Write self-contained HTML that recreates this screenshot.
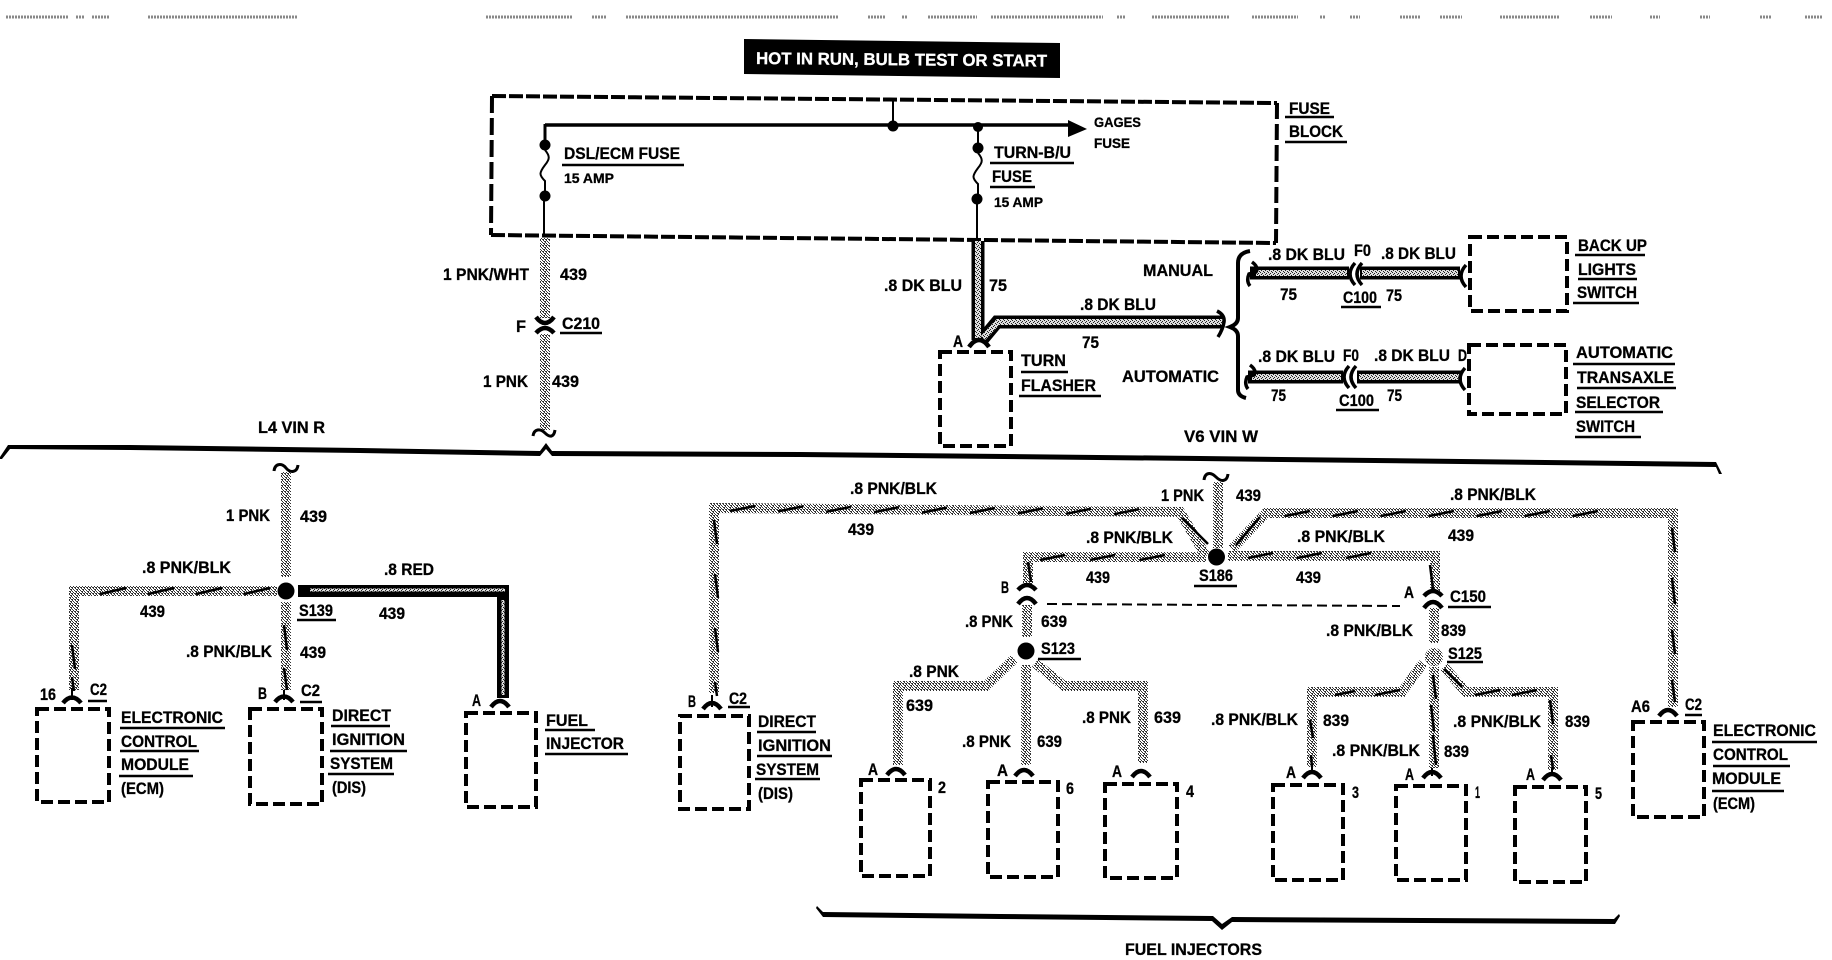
<!DOCTYPE html>
<html><head><meta charset="utf-8"><title>Wiring diagram</title>
<style>
html,body{margin:0;padding:0;background:#fff}
svg{display:block}
text{font-family:"Liberation Sans Narrow","Liberation Sans",sans-serif;font-weight:bold;font-size:17px;fill:#000;stroke:#000;stroke-width:.3}
text.s{font-size:14px}
.w{fill:none;stroke:url(#p);stroke-width:10}
.bo{fill:none;stroke:#000;stroke-width:13}
.bi{fill:none;stroke:url(#b);stroke-width:6}
.tk{fill:none;stroke:#000;stroke-width:2.5}
.box{fill:none;stroke:#000;stroke-width:4;stroke-dasharray:12 5}
.u{fill:none;stroke:#000;stroke-width:2.5}
.c{fill:none;stroke:#000;stroke-width:4.5}
.l{fill:none;stroke:#000;stroke-width:2}
</style></head><body>
<svg width="1832" height="960" viewBox="0 0 1832 960" xmlns="http://www.w3.org/2000/svg">
<defs>
<pattern id="p" width="6" height="6" patternUnits="userSpaceOnUse">
<rect width="6" height="6" fill="#fff"/>
<path d="M0 0h1v1H0zM3 0h1v1H3zM1 1h1v1H1zM4 1h2v1H4zM2 2h1v1H2zM5 2h1v1H5zM0 3h1v1H0zM3 3h2v1H3zM1 4h1v1H1zM4 4h1v1H4zM0 5h1v1H0zM2 5h2v1H2zM5 5h1v1H5z" fill="#333"/>
</pattern>
<pattern id="b" width="4" height="4" patternUnits="userSpaceOnUse">
<rect width="4" height="4" fill="#ddd"/>
<path d="M0 0h1v1H0zM2 1h1v1H2zM1 2h1v1H1zM3 3h1v1H3z" fill="#222"/>
</pattern>
</defs>
<rect width="1832" height="960" fill="#fff"/>

<!-- top clipped text -->
<g stroke="#888" stroke-width="3" stroke-dasharray="2 1" fill="none">
<path d="M6 17H68M76 17H84M92 17H110M148 17H298M486 17H572M592 17H606M626 17H839M868 17H885M902 17H908M928 17H977M991 17H1103M1117 17H1126M1152 17H1229M1252 17H1298M1320 17H1326M1350 17H1360M1400 17H1420M1440 17H1462M1500 17H1560M1590 17H1612M1650 17H1660M1700 17H1710M1760 17H1772M1805 17H1822"/>
</g>

<!-- banner -->
<polygon points="744,39 1060,43 1060,78 744,74" fill="#000"/>
<text x="756" y="64" textLength="291" lengthAdjust="spacingAndGlyphs" transform="rotate(0.5 756 64)" style="fill:#fff;stroke:#fff;font-size:17px">HOT IN RUN, BULB TEST OR START</text>

<!-- fuse block -->
<g fill="none" stroke="#000" stroke-width="4">
<path d="M492 96L1277 103" stroke-dasharray="14 3"/>
<path d="M1277 103L1276 243" stroke-dasharray="16 5"/>
<path d="M491 235L1276 243" stroke-dasharray="14 3"/>
<path d="M492 96L491 235" stroke-dasharray="17 5"/>
</g>
<path d="M545 125H1070" class="l" style="stroke-width:3.5"/>
<path d="M545 124V150" class="l" style="stroke-width:3"/>
<path d="M893 98V126M978 126V148M977 198V240M544 196V236" class="l"/>
<polygon points="1068,120 1087,129 1068,137" fill="#000"/>
<g fill="#000">
<circle cx="893" cy="126" r="5.5"/><circle cx="978" cy="127" r="5"/>
<circle cx="545" cy="145" r="5.5"/><circle cx="545" cy="196" r="5.5"/>
<circle cx="978" cy="148" r="5.5"/><circle cx="977" cy="199" r="5.5"/>
</g>
<path d="M545 150c5 6 5 9 0 15c-6 8-6 10 0 16l0 10M978 153c5 6 5 9 0 15c-6 8-6 10 0 16l0 10" class="l"/>

<!-- bus lines -->
<polygon fill="#000" points="0,457 8,445 130,445 360,448 540,451 546,443 552,451 800,452 1200,456 1716,462 1722,474 1719,474 1716,467 1200,461 800,457 552,456 546,449 540,456 360,453 130,450 10,449 2,459 0,459"/>
<polygon fill="#000" points="817,906 823,912 1000,914 1213,916 1222,924 1232,917 1614,919 1619,914 1620,916 1615,924 1232,922 1222,930 1212,921 1000,919 823,917 816,908"/>

<!-- upper pink wire -->
<path class="w" d="M545 238V318M545 334V430"/>
<path class="c" d="M536 317q9 12 18 0M536 333q9-10 18 0"/>
<path class="c" style="stroke-width:3" d="M533 436c1-7 7-8 12-3s9 4 10-3"/>

<!-- blue wires -->
<path class="bo" d="M978 241V340M982 340L997 322H1223"/>
<path class="bi" d="M978 241V338M983 338L998 322H1223"/>
<path class="bo" d="M1250 273H1349M1360 273H1460M1248 377H1343M1357 377H1462"/>
<path class="bi" d="M1256 273H1347M1362 273H1458M1252 377H1341M1359 377H1460"/>
<path class="c" d="M969 347q10-14 20 0"/>
<path class="c" style="stroke-width:3.5" d="M1217 311q8 4 7 11q-1 7-6 15M1252 262q7 5 4 10l-7 2q-3 7 1 12M1355 263q-10 11 0 22M1362 263q-10 11 0 22M1466 265q-10 11 0 22M1250 365q7 5 4 10l-7 2q-3 7 1 12M1349 366q-10 11 0 22M1356 366q-10 11 0 22M1465 368q-10 11 0 22"/>
<path d="M1250 251q-12 2-12 12V318q0 6-8 9q8 3 8 9V390q0 6 8 8" fill="none" stroke="#000" stroke-width="4"/>

<!-- L4 wires -->
<path class="w" d="M286 472V577M286 602V690M277 591H74V690"/>
<path class="c" style="stroke-width:3" d="M274 471c1-8 8-8 12-3s11 5 12-3"/>
<circle cx="286" cy="591" r="8.5"/>
<path d="M298 591H503V698" fill="none" stroke="#000" stroke-width="12"/>
<path d="M310 590H505M503 600V695" fill="none" stroke="url(#b)" stroke-width="3"/>
<path class="tk" d="M100 594l26-6m22 6l26-6m22 6l26-6m22 6l26-6M72 645l3 24m-3 8l2 14M284 625l3 25m-3 18l3 22"/>
<path class="c" d="M63 703q9-11 18 0M275 702q9-11 18 0M491 707q9-12 18 0"/>

<!-- V6 wires -->
<path class="w" d="M1206 556L1180 512L714 508V693"/>
<path class="w" d="M1218 482V548M1206 557H1028V585"/>
<path class="w" d="M1232 549L1266 513H1673V707"/>
<path class="w" d="M1228 556H1435V592"/>
<path class="c" style="stroke-width:3" d="M1204 480c1-8 7-8 12-3s11 5 12-3"/>
<circle cx="1216.5" cy="557" r="8.5"/>
<path class="tk" d="M730 511l25-5m23 5.4l25-5m23 5.4l25-5m23 5.4l25-5m23 5.4l25-5m23 5.4l25-5m23 5.4l25-5m23 5.4l25-5m23 5.4l25-5M714 520l3 24m-2 30l3 24m-3 30l3 24m-3 30l2 14M1182 518l26 26M1040 560l25-5m25 5l25-5m25 5l25-5M1028 562l3 20M1236 545l24-28M1285 516l25-5m23 5l25-5m23 5l25-5m23 5l25-5m23 5l25-5m23 5l25-5m23 5l25-5M1672 528l3 24m-3 26l3 26m-3 26l3 24m-3 26l3 22M1248 558l25-5m24 5l25-5m24 5l25-5M1430 565l3 24M1434 618l3 22"/>
<path class="w" d="M1027 605V637M1014 659L986 686H898V765M1026 665V765M1035 663L1064 686H1143V763"/>
<circle cx="1026" cy="651" r="8.5"/>
<path class="w" d="M1434 608V643M1423 663L1402 692H1312V767M1434 667V768M1444 667L1466 692H1553V770"/>
<circle cx="1434" cy="657" r="9" fill="url(#p)"/>
<path class="tk" d="M1375 695l25-5M1335 695l20-4M1444 669l18 18M1475 695l25-5m12 5l25-5M1310 720l3 18M1311 755l1 12M1433 675l3 24M1431 705l3 26M1550 700l3 24M1551 755l2 14M1433 735l3 30"/>
<path class="c" d="M1018 590q9-10 18 0M1018 604q9-12 18 0M1424 596q9-10 18 0M1424 608q9-12 18 0"/>
<path class="c" d="M887 775q9-12 18 0M1015 776q9-12 18 0M1132 777q9-12 18 0M1303 778q9-12 18 0M1423 778q9-12 18 0M1543 780q9-12 18 0M703 709q9-12 18 0M1659 716q9-12 18 0"/>
<path class="l" d="M712 695v12M1312 766v8M1432 768v8M1552 768v8M72 688v12M284 690v10"/>
<path d="M1047 604L1400 606" fill="none" stroke="#000" stroke-width="2" stroke-dasharray="10 5"/>

<!-- boxes -->
<rect class="box" x="940" y="352" width="71" height="94"/>
<rect class="box" x="1470" y="237" width="97" height="74"/>
<rect class="box" x="1469" y="345" width="97" height="69"/>
<rect class="box" x="37" y="709" width="72" height="93"/>
<rect class="box" x="250" y="709" width="72" height="95"/>
<rect class="box" x="466" y="713" width="70" height="94"/>
<rect class="box" x="680" y="716" width="69" height="93"/>
<rect class="box" x="861" y="780" width="69" height="96"/>
<rect class="box" x="988" y="782" width="70" height="95"/>
<rect class="box" x="1105" y="784" width="72" height="94"/>
<rect class="box" x="1273" y="785" width="70" height="95"/>
<rect class="box" x="1396" y="786" width="70" height="94"/>
<rect class="box" x="1515" y="787" width="71" height="95"/>
<rect class="box" x="1633" y="722" width="71" height="95"/>

<!-- underlines -->
<path class="u" d="M562 165H684M990 163H1074M990 187H1035M1285 117H1334M1285 142H1347M560 333H602M1021 372H1068M1019 396H1101M1341 307H1381M1575 255H1645M1578 279H1637M1573 303H1639M1336 410H1379M1573 364H1675M1577 388H1676M1575 412H1663M1575 437H1641M297 620H336M88 701H107M300 702H322M120 728H225M120 751H199M119 776H193M331 726H390M330 751H407M328 774H394M545 730H595M545 754H628M1194 586H1237M1038 659H1081M728 707H750M757 732H816M757 756H832M755 779H820M1448 607H1491M1447 662H1483M1685 715H1702M1712 742H1817M1713 766H1790M1712 791H1784"/>

<!-- text -->
<text x="564" y="159" textLength="116" lengthAdjust="spacingAndGlyphs">DSL/ECM FUSE</text>
<text class="s" x="564" y="183" textLength="50" lengthAdjust="spacingAndGlyphs">15 AMP</text>
<text x="994" y="158" textLength="77" lengthAdjust="spacingAndGlyphs">TURN-B/U</text>
<text x="992" y="182" textLength="40" lengthAdjust="spacingAndGlyphs">FUSE</text>
<text class="s" x="994" y="207" textLength="49" lengthAdjust="spacingAndGlyphs">15 AMP</text>
<text class="s" x="1094" y="127" textLength="47" lengthAdjust="spacingAndGlyphs">GAGES</text>
<text class="s" x="1094" y="148" textLength="36" lengthAdjust="spacingAndGlyphs">FUSE</text>
<text x="1289" y="114" textLength="41" lengthAdjust="spacingAndGlyphs">FUSE</text>
<text x="1289" y="137" textLength="54" lengthAdjust="spacingAndGlyphs">BLOCK</text>
<text x="443" y="280" textLength="86" lengthAdjust="spacingAndGlyphs">1 PNK/WHT</text>
<text x="560" y="280" textLength="27" lengthAdjust="spacingAndGlyphs">439</text>
<text x="516" y="332" textLength="10" lengthAdjust="spacingAndGlyphs">F</text>
<text x="562" y="329" textLength="38" lengthAdjust="spacingAndGlyphs">C210</text>
<text x="483" y="387" textLength="45" lengthAdjust="spacingAndGlyphs">1 PNK</text>
<text x="552" y="387" textLength="27" lengthAdjust="spacingAndGlyphs">439</text>
<text x="884" y="291" textLength="78" lengthAdjust="spacingAndGlyphs">.8 DK BLU</text>
<text x="989" y="291" textLength="18" lengthAdjust="spacingAndGlyphs">75</text>
<text x="1080" y="310" textLength="76" lengthAdjust="spacingAndGlyphs">.8 DK BLU</text>
<text x="1082" y="348" textLength="17" lengthAdjust="spacingAndGlyphs">75</text>
<text x="953" y="347" textLength="10" lengthAdjust="spacingAndGlyphs">A</text>
<text x="1021" y="366" textLength="45" lengthAdjust="spacingAndGlyphs">TURN</text>
<text x="1021" y="391" textLength="75" lengthAdjust="spacingAndGlyphs">FLASHER</text>
<text x="1143" y="276" textLength="70" lengthAdjust="spacingAndGlyphs">MANUAL</text>
<text x="1122" y="382" textLength="97" lengthAdjust="spacingAndGlyphs">AUTOMATIC</text>
<text x="1184" y="442" textLength="74" lengthAdjust="spacingAndGlyphs">V6 VIN W</text>
<text x="1268" y="260" textLength="77" lengthAdjust="spacingAndGlyphs">.8 DK BLU</text>
<text x="1354" y="256" textLength="17" lengthAdjust="spacingAndGlyphs">F0</text>
<text x="1381" y="259" textLength="75" lengthAdjust="spacingAndGlyphs">.8 DK BLU</text>
<text x="1280" y="300" textLength="17" lengthAdjust="spacingAndGlyphs">75</text>
<text x="1343" y="303" textLength="34" lengthAdjust="spacingAndGlyphs">C100</text>
<text x="1386" y="301" textLength="16" lengthAdjust="spacingAndGlyphs">75</text>
<text x="1578" y="251" textLength="69" lengthAdjust="spacingAndGlyphs">BACK UP</text>
<text x="1578" y="275" textLength="58" lengthAdjust="spacingAndGlyphs">LIGHTS</text>
<text x="1577" y="298" textLength="60" lengthAdjust="spacingAndGlyphs">SWITCH</text>
<text x="1258" y="362" textLength="77" lengthAdjust="spacingAndGlyphs">.8 DK BLU</text>
<text x="1343" y="361" textLength="16" lengthAdjust="spacingAndGlyphs">F0</text>
<text x="1374" y="361" textLength="76" lengthAdjust="spacingAndGlyphs">.8 DK BLU</text>
<text x="1458" y="361" textLength="9" lengthAdjust="spacingAndGlyphs">D</text>
<text x="1271" y="401" textLength="15" lengthAdjust="spacingAndGlyphs">75</text>
<text x="1339" y="406" textLength="35" lengthAdjust="spacingAndGlyphs">C100</text>
<text x="1387" y="401" textLength="15" lengthAdjust="spacingAndGlyphs">75</text>
<text x="1576" y="358" textLength="97" lengthAdjust="spacingAndGlyphs">AUTOMATIC</text>
<text x="1577" y="383" textLength="97" lengthAdjust="spacingAndGlyphs">TRANSAXLE</text>
<text x="1576" y="408" textLength="84" lengthAdjust="spacingAndGlyphs">SELECTOR</text>
<text x="1576" y="432" textLength="59" lengthAdjust="spacingAndGlyphs">SWITCH</text>

<text x="258" y="433" textLength="67" lengthAdjust="spacingAndGlyphs">L4 VIN R</text>
<text x="142" y="573" textLength="89" lengthAdjust="spacingAndGlyphs">.8 PNK/BLK</text>
<text x="384" y="575" textLength="50" lengthAdjust="spacingAndGlyphs">.8 RED</text>
<text x="226" y="521" textLength="44" lengthAdjust="spacingAndGlyphs">1 PNK</text>
<text x="300" y="522" textLength="27" lengthAdjust="spacingAndGlyphs">439</text>
<text x="140" y="617" textLength="25" lengthAdjust="spacingAndGlyphs">439</text>
<text x="299" y="616" textLength="34" lengthAdjust="spacingAndGlyphs">S139</text>
<text x="379" y="619" textLength="26" lengthAdjust="spacingAndGlyphs">439</text>
<text x="186" y="657" textLength="86" lengthAdjust="spacingAndGlyphs">.8 PNK/BLK</text>
<text x="300" y="658" textLength="26" lengthAdjust="spacingAndGlyphs">439</text>
<text x="40" y="700" textLength="16" lengthAdjust="spacingAndGlyphs">16</text>
<text x="90" y="695" textLength="17" lengthAdjust="spacingAndGlyphs">C2</text>
<text x="258" y="699" textLength="9" lengthAdjust="spacingAndGlyphs">B</text>
<text x="301" y="696" textLength="19" lengthAdjust="spacingAndGlyphs">C2</text>
<text x="472" y="706" textLength="9" lengthAdjust="spacingAndGlyphs">A</text>
<text x="121" y="723" textLength="102" lengthAdjust="spacingAndGlyphs">ELECTRONIC</text>
<text x="121" y="747" textLength="76" lengthAdjust="spacingAndGlyphs">CONTROL</text>
<text x="121" y="770" textLength="68" lengthAdjust="spacingAndGlyphs">MODULE</text>
<text x="121" y="794" textLength="43" lengthAdjust="spacingAndGlyphs">(ECM)</text>
<text x="332" y="721" textLength="59" lengthAdjust="spacingAndGlyphs">DIRECT</text>
<text x="332" y="745" textLength="73" lengthAdjust="spacingAndGlyphs">IGNITION</text>
<text x="330" y="769" textLength="63" lengthAdjust="spacingAndGlyphs">SYSTEM</text>
<text x="332" y="793" textLength="34" lengthAdjust="spacingAndGlyphs">(DIS)</text>
<text x="546" y="726" textLength="42" lengthAdjust="spacingAndGlyphs">FUEL</text>
<text x="546" y="749" textLength="78" lengthAdjust="spacingAndGlyphs">INJECTOR</text>

<text x="850" y="494" textLength="87" lengthAdjust="spacingAndGlyphs">.8 PNK/BLK</text>
<text x="848" y="535" textLength="26" lengthAdjust="spacingAndGlyphs">439</text>
<text x="1161" y="501" textLength="43" lengthAdjust="spacingAndGlyphs">1 PNK</text>
<text x="1236" y="501" textLength="25" lengthAdjust="spacingAndGlyphs">439</text>
<text x="1086" y="543" textLength="87" lengthAdjust="spacingAndGlyphs">.8 PNK/BLK</text>
<text x="1086" y="583" textLength="24" lengthAdjust="spacingAndGlyphs">439</text>
<text x="1199" y="581" textLength="34" lengthAdjust="spacingAndGlyphs">S186</text>
<text x="1001" y="593" textLength="8" lengthAdjust="spacingAndGlyphs">B</text>
<text x="965" y="627" textLength="48" lengthAdjust="spacingAndGlyphs">.8 PNK</text>
<text x="1041" y="627" textLength="26" lengthAdjust="spacingAndGlyphs">639</text>
<text x="1041" y="654" textLength="34" lengthAdjust="spacingAndGlyphs">S123</text>
<text x="909" y="677" textLength="50" lengthAdjust="spacingAndGlyphs">.8 PNK</text>
<text x="906" y="711" textLength="27" lengthAdjust="spacingAndGlyphs">639</text>
<text x="1082" y="723" textLength="49" lengthAdjust="spacingAndGlyphs">.8 PNK</text>
<text x="1154" y="723" textLength="27" lengthAdjust="spacingAndGlyphs">639</text>
<text x="962" y="747" textLength="49" lengthAdjust="spacingAndGlyphs">.8 PNK</text>
<text x="1037" y="747" textLength="25" lengthAdjust="spacingAndGlyphs">639</text>
<text x="868" y="775" textLength="10" lengthAdjust="spacingAndGlyphs">A</text>
<text x="997" y="776" textLength="11" lengthAdjust="spacingAndGlyphs">A</text>
<text x="1112" y="777" textLength="10" lengthAdjust="spacingAndGlyphs">A</text>
<text x="938" y="793" textLength="8" lengthAdjust="spacingAndGlyphs">2</text>
<text x="1066" y="794" textLength="8" lengthAdjust="spacingAndGlyphs">6</text>
<text x="1186" y="797" textLength="8" lengthAdjust="spacingAndGlyphs">4</text>
<text x="688" y="707" textLength="8" lengthAdjust="spacingAndGlyphs">B</text>
<text x="729" y="704" textLength="18" lengthAdjust="spacingAndGlyphs">C2</text>
<text x="758" y="727" textLength="58" lengthAdjust="spacingAndGlyphs">DIRECT</text>
<text x="758" y="751" textLength="73" lengthAdjust="spacingAndGlyphs">IGNITION</text>
<text x="756" y="775" textLength="63" lengthAdjust="spacingAndGlyphs">SYSTEM</text>
<text x="758" y="799" textLength="35" lengthAdjust="spacingAndGlyphs">(DIS)</text>
<text x="1125" y="955" textLength="137" lengthAdjust="spacingAndGlyphs">FUEL INJECTORS</text>
<text x="1211" y="725" textLength="87" lengthAdjust="spacingAndGlyphs">.8 PNK/BLK</text>
<text x="1450" y="500" textLength="86" lengthAdjust="spacingAndGlyphs">.8 PNK/BLK</text>
<text x="1448" y="541" textLength="26" lengthAdjust="spacingAndGlyphs">439</text>
<text x="1297" y="542" textLength="88" lengthAdjust="spacingAndGlyphs">.8 PNK/BLK</text>
<text x="1296" y="583" textLength="25" lengthAdjust="spacingAndGlyphs">439</text>
<text x="1404" y="598" textLength="10" lengthAdjust="spacingAndGlyphs">A</text>
<text x="1450" y="602" textLength="36" lengthAdjust="spacingAndGlyphs">C150</text>
<text x="1326" y="636" textLength="87" lengthAdjust="spacingAndGlyphs">.8 PNK/BLK</text>
<text x="1441" y="636" textLength="25" lengthAdjust="spacingAndGlyphs">839</text>
<text x="1448" y="659" textLength="34" lengthAdjust="spacingAndGlyphs">S125</text>
<text x="1323" y="726" textLength="26" lengthAdjust="spacingAndGlyphs">839</text>
<text x="1332" y="756" textLength="88" lengthAdjust="spacingAndGlyphs">.8 PNK/BLK</text>
<text x="1444" y="757" textLength="25" lengthAdjust="spacingAndGlyphs">839</text>
<text x="1453" y="727" textLength="88" lengthAdjust="spacingAndGlyphs">.8 PNK/BLK</text>
<text x="1565" y="727" textLength="25" lengthAdjust="spacingAndGlyphs">839</text>
<text x="1286" y="778" textLength="10" lengthAdjust="spacingAndGlyphs">A</text>
<text x="1405" y="780" textLength="9" lengthAdjust="spacingAndGlyphs">A</text>
<text x="1526" y="780" textLength="9" lengthAdjust="spacingAndGlyphs">A</text>
<text x="1352" y="798" textLength="7" lengthAdjust="spacingAndGlyphs">3</text>
<text x="1475" y="798" textLength="5" lengthAdjust="spacingAndGlyphs">1</text>
<text x="1595" y="799" textLength="7" lengthAdjust="spacingAndGlyphs">5</text>
<text x="1631" y="712" textLength="19" lengthAdjust="spacingAndGlyphs">A6</text>
<text x="1685" y="710" textLength="17" lengthAdjust="spacingAndGlyphs">C2</text>
<text x="1713" y="736" textLength="103" lengthAdjust="spacingAndGlyphs">ELECTRONIC</text>
<text x="1713" y="760" textLength="75" lengthAdjust="spacingAndGlyphs">CONTROL</text>
<text x="1712" y="784" textLength="69" lengthAdjust="spacingAndGlyphs">MODULE</text>
<text x="1713" y="809" textLength="42" lengthAdjust="spacingAndGlyphs">(ECM)</text>
</svg>
</body></html>
